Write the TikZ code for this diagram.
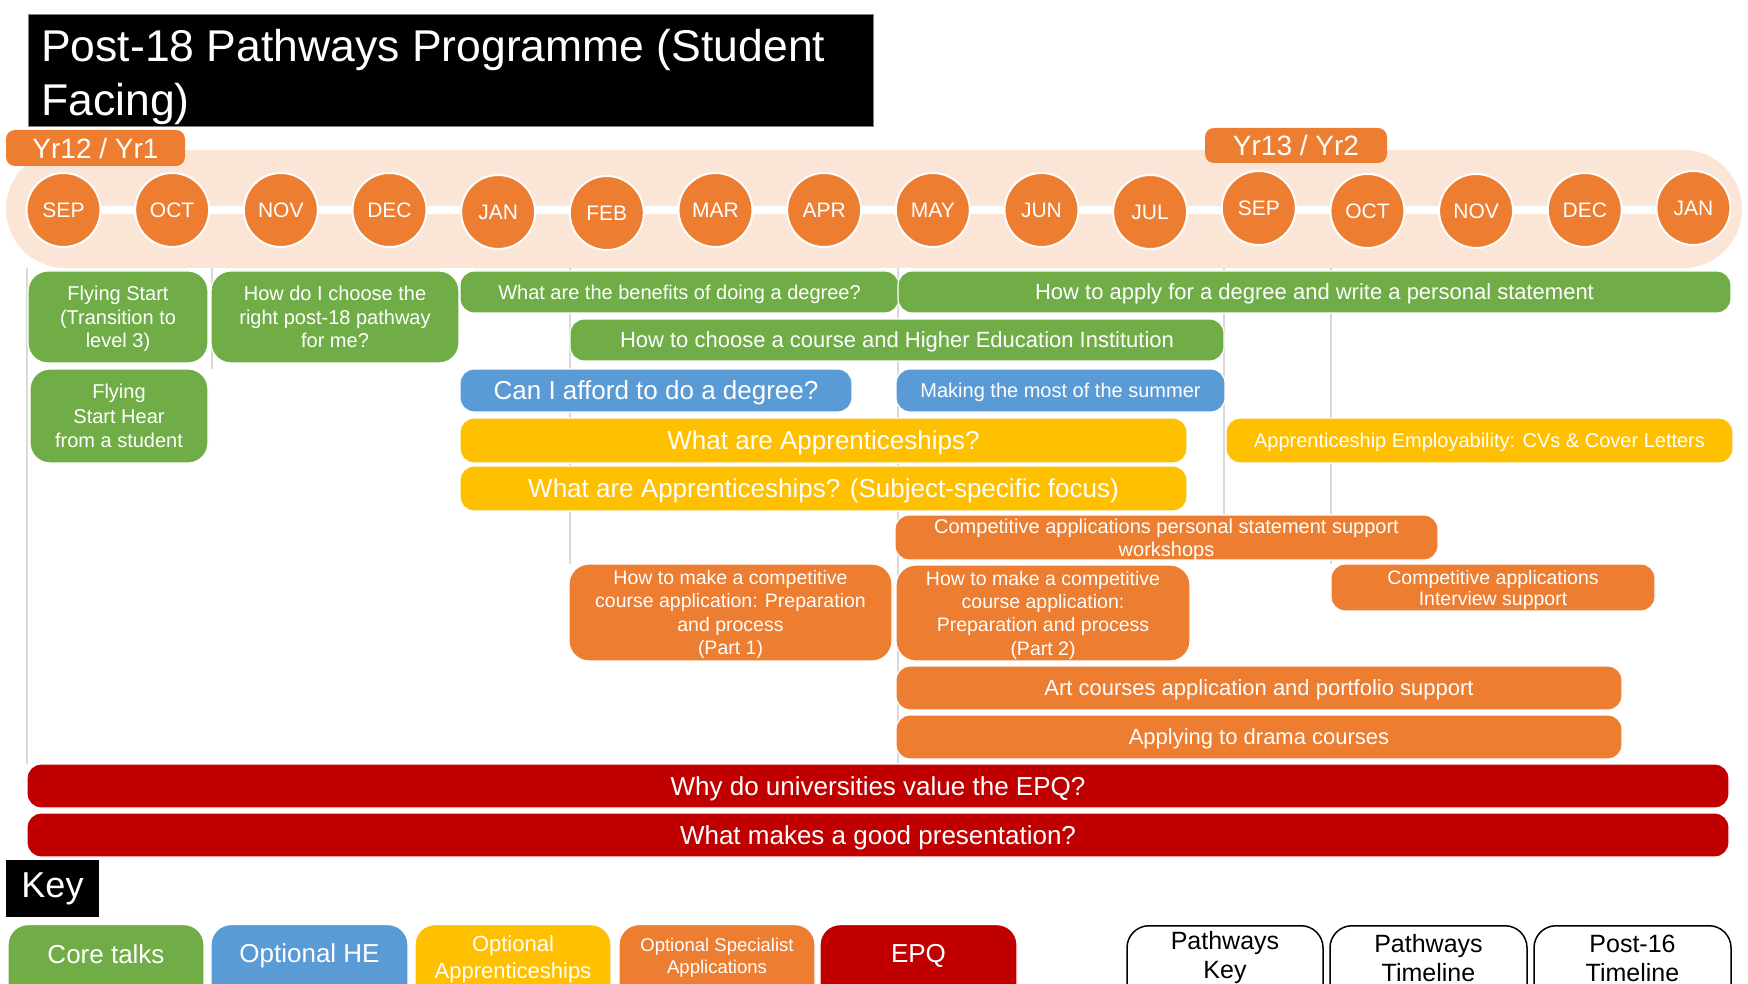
\documentclass[tikz,border=0pt]{standalone}
\usepackage{fontspec}
\setmainfont{Liberation Sans}
\newcommand\FS[2]{\fontsize{#1}{#2}\selectfont}
\definecolor{cgreen}{HTML}{70AD47}
\definecolor{cblue}{HTML}{5B9BD5}
\definecolor{cyellow}{HTML}{FFC000}
\definecolor{corange}{HTML}{ED7D31}
\definecolor{cred}{HTML}{C00000}
\definecolor{cpeach}{HTML}{FBE5D6}
\definecolor{cgrid}{HTML}{D9D9D9}
\tikzset{
  bx/.style={draw=white, line width=1.2pt, rounded corners=14pt, text=white, align=center, inner sep=0pt, text depth=0pt},
  tallbx/.style={bx, rounded corners=20pt},
  month/.style={circle, draw=white, line width=2pt, fill=corange, minimum size=74pt, inner sep=0pt, text=white, font={\FS{21}{24}}},
  yrtag/.style={fill=corange, rounded corners=9pt, text=white, inner sep=0pt, font={\FS{28}{32}}},
  gridline/.style={draw=cgrid, line width=1.5pt},
  keyshape/.style={draw=white, line width=1.2pt, rounded corners=20pt, minimum height=90pt, inner sep=0pt, anchor=north},
  keytext/.style={text=white, align=center, inner sep=0pt},
  navbox/.style={draw=black, line width=1.5pt, fill=white, rounded corners=22pt, minimum height=90pt, inner sep=0pt, anchor=north},
  navtext/.style={text=black, align=center, inner sep=0pt, font={\FS{25}{29}}},
}
\begin{document}
\begin{tikzpicture}[x=1pt, y=-1pt]
\useasboundingbox (0,0) rectangle (1748,984);
\clip (0,0) rectangle (1748,984);
\fill[white] (0,0) rectangle (1748,984);

% title
\node[fill=black, draw=gray, line width=1pt, minimum width=845pt, minimum height=112pt, inner sep=0pt, anchor=north west] (titlebox) at (28,14) {};
\node[anchor=base west, text=white, inner sep=0pt, font={\FS{44.5}{50}}] (title1) at (41,62) {Post-18 Pathways Programme (Student};
\node[anchor=base west, text=white, inner sep=0pt, font={\FS{44.5}{50}}] (title2) at (41,116) {Facing)};

% timeline band
\fill[cpeach, rounded corners=59pt] (6,150) rectangle (1742,268);

% grid lines
\draw[gridline] (27,268) -- (27,764);
\draw[gridline] (212,268) -- (212,369);
\draw[gridline] (570,268) -- (570,564);
\draw[gridline] (898,268) -- (898,764);
\draw[gridline] (1224,268) -- (1224,515);
\draw[gridline] (1331,268) -- (1331,564);

% year tags
\node[yrtag, minimum width=179pt, minimum height=36pt] (yr12) at (95.5,148) {Yr12 / Yr1};
\node[yrtag, minimum width=182pt, minimum height=35pt] (yr13) at (1296,145.5) {Yr13 / Yr2};

% white line and month circles
\coordinate (tlstart) at (63.5,210);
\coordinate (tlend) at (1693.4,210);
\draw[white, line width=8pt] (tlstart) -- (tlend);
\foreach \m/\yy [count=\i from 0] in {SEP/210,OCT/210,NOV/210,DEC/210,JAN/212,FEB/213,MAR/210,APR/210,MAY/210,JUN/210,JUL/212,SEP/208,OCT/211,NOV/211,DEC/210,JAN/208} {
  \node[month] (m\i) at ({63.5+108.66*\i},\yy) {\m};
}

% green core talks
\node[tallbx, fill=cgreen, minimum width=180pt, minimum height=92pt, font={\FS{20}{23.5}}] (fly1) at (118,317) {Flying Start\\(Transition to\\level 3)};
\node[tallbx, fill=cgreen, minimum width=248pt, minimum height=92pt, font={\FS{20}{23.5}}] (choose) at (335,317) {How do I choose the\\right post-18 pathway\\for me?};
\node[tallbx, fill=cgreen, minimum width=178pt, minimum height=94pt, font={\FS{20}{24.5}}] (fly2) at (119,416) {Flying\\Start Hear\\from a student};
\node[bx, fill=cgreen, minimum width=439pt, minimum height=42pt, font={\FS{20}{24}}] (benefit) at (679.5,292) {What are the benefits of doing a degree?};
\node[bx, fill=cgreen, minimum width=833pt, minimum height=42pt, font={\FS{22}{26}}] (apply) at (1314.5,292) {How to apply for a degree and write a personal statement};
\node[bx, fill=cgreen, minimum width=654pt, minimum height=42pt, font={\FS{22}{26}}] (course) at (897,340) {How to choose a course and Higher Education Institution};

% blue optional HE
\node[bx, fill=cblue, minimum width=392pt, minimum height=43pt, font={\FS{26}{30}}] (afford) at (656,390.5) {Can I afford to do a degree?};
\node[bx, fill=cblue, minimum width=329pt, minimum height=43pt, font={\FS{20}{24}}] (summer) at (1060.5,390.5) {Making the most of the summer};

% yellow apprenticeships
\node[bx, fill=cyellow, minimum width=727pt, minimum height=45pt, font={\FS{26}{30}}] (app1) at (823.5,440.5) {What are Apprenticeships?};
\node[bx, fill=cyellow, minimum width=727pt, minimum height=45pt, font={\FS{26}{30}}] (app2) at (823.5,488.5) {What are Apprenticeships? (Subject-specific focus)};
\node[bx, fill=cyellow, minimum width=507pt, minimum height=45pt, font={\FS{20}{24}}] (employ) at (1479.5,440.5) {Apprenticeship Employability: CVs \& Cover Letters};

% orange specialist applications
\node[bx, fill=corange, minimum width=543pt, minimum height=45pt, font={\FS{20}{23}}] (ps) at (1166.5,537.5) {Competitive applications personal statement support\\workshops};
\node[tallbx, fill=corange, minimum width=323pt, minimum height=97pt, font={\FS{19.5}{23.3}}] (part1) at (730.5,612.5) {How to make a competitive\\course application: Preparation\\and process\\(Part 1)};
\node[tallbx, fill=corange, minimum width=294pt, minimum height=96pt, font={\FS{19.5}{23.3}}] (part2) at (1043,613) {How to make a competitive\\course application:\\Preparation and process\\(Part 2)};
\node[bx, fill=corange, minimum width=324pt, minimum height=47pt, font={\FS{19.5}{21}}] (interview) at (1493,587.5) {Competitive applications\\Interview support};
\node[bx, fill=corange, minimum width=726pt, minimum height=44pt, font={\FS{22}{26}}] (art) at (1259,688) {Art courses application and portfolio support};
\node[bx, fill=corange, minimum width=726pt, minimum height=44pt, font={\FS{22}{26}}] (drama) at (1259,737) {Applying to drama courses};

% red EPQ
\node[bx, fill=cred, minimum width=1702pt, minimum height=44pt, font={\FS{26}{30}}] (epq1) at (878,786) {Why do universities value the EPQ?};
\node[bx, fill=cred, minimum width=1702pt, minimum height=44pt, font={\FS{26}{30}}] (epq2) at (878,835) {What makes a good presentation?};

% key
\node[fill=black, minimum width=93pt, minimum height=57pt, inner sep=0pt, text=white, font={\FS{36}{40}}] (keylabel) at (52.5,888.5) {Key};

\node[keyshape, fill=cgreen, minimum width=196pt] (kcore) at (106,924) {};
\node[keytext, font={\FS{26}{30}}] (kcoret) at (106,954) {Core talks};
\node[keyshape, fill=cblue, minimum width=197pt] (khe) at (309.5,924) {};
\node[keytext, font={\FS{26}{30}}] (khet) at (309.5,956) {Optional HE};
\node[keyshape, fill=cyellow, minimum width=196pt] (kapp) at (513,924) {};
\node[keytext, font={\FS{22}{27}}] (kappt) at (513,959) {Optional\\Apprenticeships};
\node[keyshape, fill=corange, minimum width=196pt] (kspec) at (717,924) {};
\node[keytext, font={\FS{18.5}{22}}] (kspect) at (717,958) {Optional Specialist\\Applications};
\node[keyshape, fill=cred, minimum width=197pt] (kepq) at (918.5,924) {};
\node[keytext, font={\FS{26}{30}}] (kepqt) at (918.5,956) {EPQ};

% navigation boxes
\node[navbox, minimum width=196pt] (nav1) at (1225,925) {};
\node[navtext] (nav1t) at (1225,958) {Pathways\\Key};
\node[navbox, minimum width=197pt] (nav2) at (1428.5,925) {};
\node[navtext] (nav2t) at (1428.5,958) {Pathways\\Timeline};
\node[navbox, minimum width=197pt] (nav3) at (1632.5,925) {};
\node[navtext] (nav3t) at (1632.5,958) {Post-16\\Timeline};
\end{tikzpicture}
\end{document}
